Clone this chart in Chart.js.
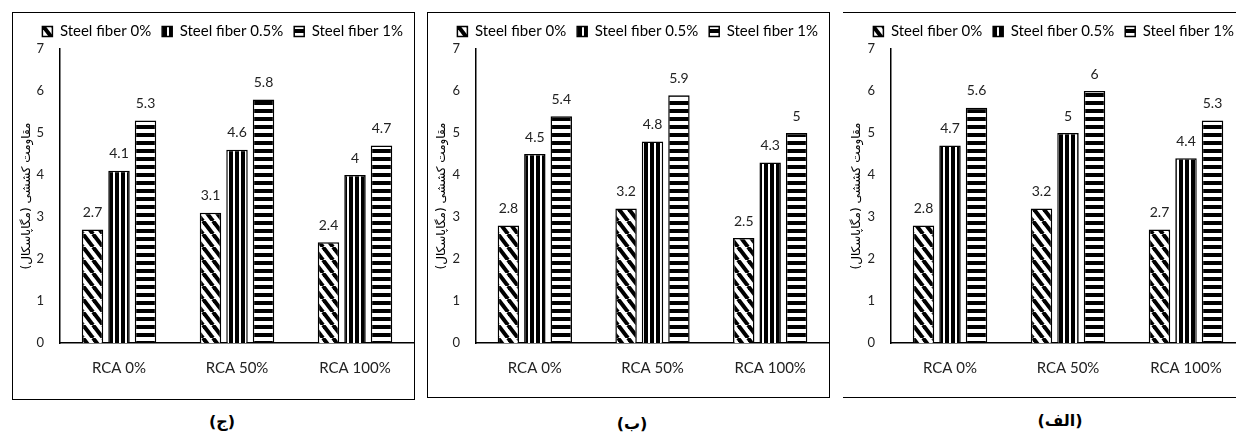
<!DOCTYPE html>
<html>
<head>
<meta charset="utf-8">
<script src="https://cdn.jsdelivr.net/npm/chart.js@4.4.0/dist/chart.umd.min.js"></script>
<style>
  body { margin: 0; width: 1236px; height: 433px; overflow: hidden; background: #fff; position: relative; }
  .panel { position: absolute; top: 12px; border: 1px solid #000; }
  .panel canvas { display: block; }
  .cap { position: absolute; font: bold 16px "DejaVu Sans", sans-serif; transform: translate(-50%, -50%); white-space: nowrap; }
</style>
</head>
<body>
<div class="panel" style="left:12px;width:401px;height:386px;"><canvas id="chartJ" width="401" height="386"></canvas></div>
<div class="panel" style="left:427px;width:401px;height:384px;"><canvas id="chartB" width="401" height="384"></canvas></div>
<div class="panel" style="left:843px;width:402px;height:384px;border-left:none;"><canvas id="chartAlef" width="402" height="384"></canvas></div>
<div class="cap" style="left:222px;top:421px;">(ج)</div>
<div class="cap" style="left:632px;top:423px;">(ب)</div>
<div class="cap" style="left:1060px;top:420px;">(الف)</div>

<script>
// categories and series
const categories = ['RCA 0%', 'RCA 50%', 'RCA 100%'];
const seriesNames = ['Steel fiber 0%', 'Steel fiber 0.5%', 'Steel fiber 1%'];
const yTitle = 'مقاومت کششی (مگاپاسکال)';
const yMin = 0, yMax = 7, yStep = 1;

// panel (ج)
const jFiber0 = [2.7, 3.1, 2.4];
const jFiber05 = [4.1, 4.6, 4];
const jFiber1 = [5.3, 5.8, 4.7];

// panel (ب)
const bFiber0 = [2.8, 3.2, 2.5];
const bFiber05 = [4.5, 4.8, 4.3];
const bFiber1 = [5.4, 5.9, 5];

// panel (الف)
const alefFiber0 = [2.8, 3.2, 2.7];
const alefFiber05 = [4.7, 5, 4.4];
const alefFiber1 = [5.6, 6, 5.3];

// hatch patterns, like the excel fills
function makePattern(kind) {
    var c = document.createElement('canvas');
    var ctx = c.getContext('2d');
    if (kind === 'diag') {
        c.width = 10; c.height = 13;
        ctx.fillStyle = '#fff'; ctx.fillRect(0, 0, 10, 13);
        ctx.strokeStyle = '#000'; ctx.lineWidth = 4;
        for (var k = -1; k <= 1; k++) {
            ctx.beginPath();
            ctx.moveTo(k * 10, 0);
            ctx.lineTo(k * 10 + 10, 13);
            ctx.stroke();
        }
    } else if (kind === 'vert') {
        c.width = 6; c.height = 2;
        ctx.fillStyle = '#fff'; ctx.fillRect(0, 0, 6, 2);
        ctx.fillStyle = '#000'; ctx.fillRect(0, 0, 4, 2);
    } else {
        c.width = 2; c.height = 8;
        ctx.fillStyle = '#fff'; ctx.fillRect(0, 0, 2, 8);
        ctx.fillStyle = '#000'; ctx.fillRect(0, 0, 2, 4);
    }
    return document.createElement('canvas').getContext('2d').createPattern(c, 'repeat');
}
const fills = [makePattern('diag'), makePattern('vert'), makePattern('horiz')];

// value labels above the bars
const valueLabels = {
    id: 'valueLabels',
    afterDatasetsDraw(chart) {
        const ctx = chart.ctx;
        ctx.save();
        ctx.font = '14px Lato';
        ctx.fillStyle = '#222';
        ctx.textAlign = 'center';
        ctx.textBaseline = 'middle';
        chart.data.datasets.forEach(function(ds, i) {
            chart.getDatasetMeta(i).data.forEach(function(bar, j) {
                ctx.fillText(String(ds.data[j]), bar.x, bar.y - 17);
            });
        });
        ctx.restore();
    }
};

function createBarChart(id, series, yWidth, xHeight) {
    const config = {
        type: 'bar',
        data: {
            labels: categories,
            datasets: series.map(function(values, i) {
                return {
                    label: seriesNames[i],
                    data: values,
                    backgroundColor: fills[i],
                    borderColor: '#000',
                    borderWidth: 1.5,
                    categoryPercentage: 0.674,
                    barPercentage: 0.81
                };
            })
        },
        options: {
            responsive: false,
            animation: false,
            devicePixelRatio: 1,
            layout: { padding: 0 },
            plugins: {
                legend: {
                    position: 'top',
                    align: 'end',
                    maxHeight: 36,
                    labels: {
                        boxWidth: 10,
                        boxHeight: 10,
                        padding: 11,
                        color: '#000',
                        font: { family: 'Lato', size: 15 }
                    }
                },
                tooltip: { enabled: false }
            },
            scales: {
                x: {
                    grid: { display: false },
                    border: { display: true, color: '#000', width: 1.5 },
                    ticks: { color: '#222', padding: 8, font: { family: 'Lato', size: 15 } },
                    afterFit: function(scale) { scale.height = xHeight; }
                },
                y: {
                    min: yMin,
                    max: yMax,
                    grid: { display: false },
                    border: { display: true, color: '#000', width: 1.5 },
                    ticks: { stepSize: yStep, color: '#222', padding: 8, font: { family: 'Lato', size: 13 } },
                    title: {
                        display: true,
                        text: yTitle,
                        color: '#000',
                        padding: { top: 7, bottom: 0 },
                        font: { family: 'DejaVu Sans', size: 12 }
                    },
                    afterFit: function(scale) { scale.width = yWidth; }
                }
            }
        },
        plugins: [valueLabels]
    };
    return new Chart(document.getElementById(id), config);
}

createBarChart('chartJ', [jFiber0, jFiber05, jFiber1], 47, 56);
createBarChart('chartB', [bFiber0, bFiber05, bFiber1], 48, 54);
createBarChart('chartAlef', [alefFiber0, alefFiber05, alefFiber1], 48, 54);
</script>
</body>
</html>
